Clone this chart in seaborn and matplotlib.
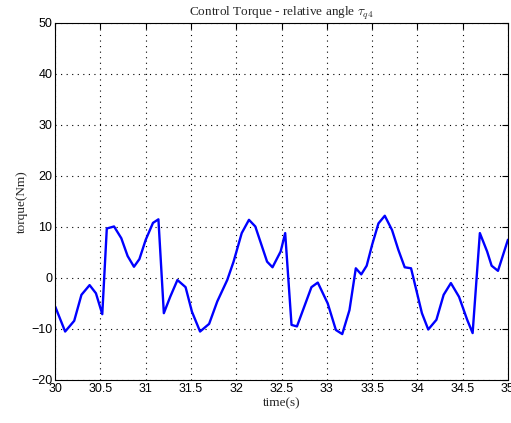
import matplotlib
matplotlib.use("Agg")
import matplotlib.pyplot as plt
import seaborn as sns
import pandas as pd

time = [30.00, 30.11, 30.21, 30.29, 30.38, 30.45, 30.52, 30.57, 30.65, 30.73,
        30.80, 30.87, 30.93, 31.00, 31.08, 31.14, 31.20, 31.27, 31.35, 31.44,
        31.51, 31.60, 31.70, 31.79, 31.90, 31.97, 32.06, 32.14, 32.21, 32.34,
        32.40, 32.49, 32.54, 32.61, 32.67, 32.83, 32.90, 33.01, 33.10, 33.17,
        33.25, 33.32, 33.38, 33.44, 33.50, 33.57, 33.64, 33.72, 33.79, 33.86,
        33.93, 34.05, 34.12, 34.21, 34.29, 34.37, 34.46, 34.55, 34.61, 34.69,
        34.77, 34.82, 34.89, 35.00]
torque = [-5.6, -10.5, -8.4, -3.3, -1.4, -3.0, -7.1, 9.7, 10.1, 7.8,
          4.3, 2.2, 3.7, 7.5, 10.8, 11.5, -6.9, -3.7, -0.4, -1.8,
          -6.6, -10.5, -9.0, -4.6, -0.4, 3.2, 8.8, 11.4, 10.1, 3.2,
          2.1, 5.2, 8.8, -9.2, -9.5, -1.8, -0.9, -5.0, -10.2, -11.0,
          -6.3, 1.9, 0.7, 2.4, 6.5, 10.7, 12.2, 9.4, 5.5, 2.1,
          1.9, -6.9, -10.1, -8.2, -3.3, -1.0, -3.7, -8.2, -10.8, 8.8,
          5.2, 2.4, 1.4, 7.5]
xticks = [30, 30.5, 31, 31.5, 32, 32.5, 33, 33.5, 34, 34.5, 35]
xticklabels = ["30", "30.5", "31", "31.5", "32", "32.5", "33", "33.5", "34", "34.5", "35"]
yticks = [-20, -10, 0, 10, 20, 30, 40, 50]

sns.set_style("white")
plt.rcParams["font.family"] = ["Liberation Sans", "DejaVu Sans"]
plt.rcParams["mathtext.fontset"] = "cm"

fig = plt.figure(figsize=(5.11, 4.23), dpi=100)
ax = fig.add_axes([0.108, 0.1017, 0.886, 0.844])

df = pd.DataFrame({"time": time, "torque": torque})
sns.lineplot(data=df, x="time", y="torque", ax=ax, color=(0, 0, 1), linewidth=1.7)

ax.set_xlim(30, 35)
ax.set_ylim(-20, 50)
ax.set_xticks(xticks)
ax.set_xticklabels(xticklabels)
ax.set_yticks(yticks)
ax.tick_params(direction="in", length=4, width=0.8, colors="black", labelsize=9,
               top=True, right=True, pad=2)
ax.grid(True, color="black", linestyle=(0, (1, 4)), linewidth=0.8)
for s in ax.spines.values():
    s.set_visible(True)
    s.set_color("black")
    s.set_linewidth(0.8)

ax.set_xlabel("time(s)", family=["Liberation Serif", "DejaVu Serif"], fontsize=9.5, labelpad=2)
ax.set_ylabel("torque(Nm)", family=["Liberation Serif", "DejaVu Serif"], fontsize=9.5, labelpad=2)
ax.set_title(r"Control Torque - relative angle $\tau_{q4}$",
             family=["Liberation Serif", "DejaVu Serif"], fontsize=9.5, pad=5)

fig.savefig("out.png", dpi=100, facecolor="white")
